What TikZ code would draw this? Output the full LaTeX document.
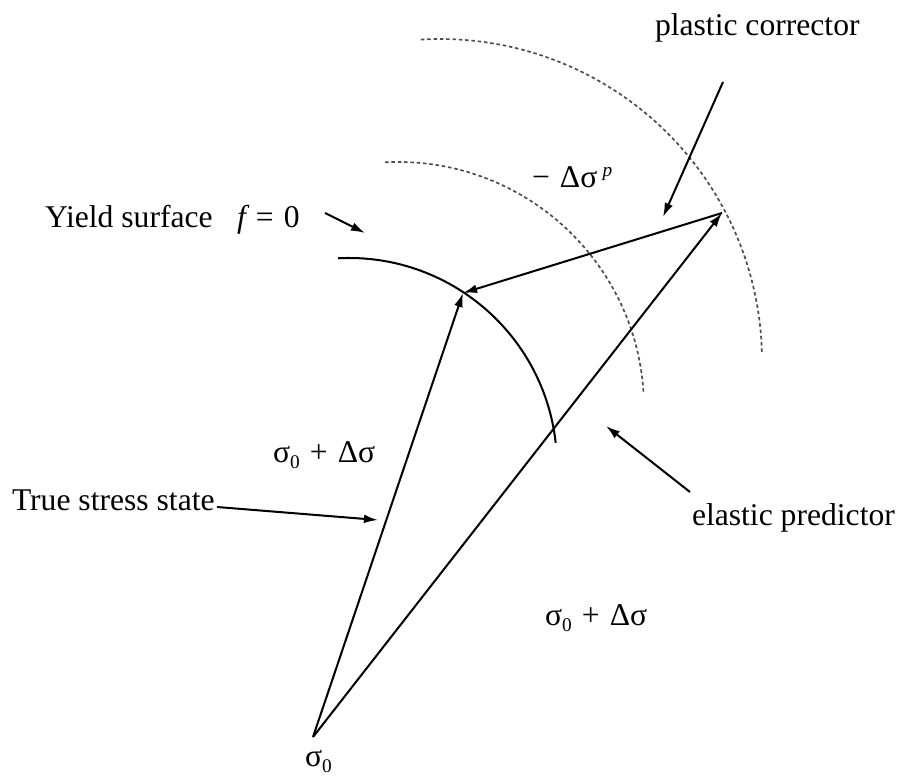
\documentclass[tikz,border=0pt]{standalone}
\usepackage{fontspec}
\setmainfont{Liberation Serif}
\usetikzlibrary{arrows.meta}
\newcommand{\mysub}[1]{\raisebox{-0.45ex}{\fontsize{11}{11}\selectfont #1}}
\newcommand{\mysup}[1]{\raisebox{0.8ex}{\fontsize{11}{11}\selectfont #1}}
\newcommand{\opsp}{\hspace{0.32em}}
\begin{document}
\begin{tikzpicture}[x=0.02cm,y=-0.02cm,
  every node/.style={inner sep=0pt,outer sep=0pt,font=\fontsize{18}{20}\selectfont},
  lbl/.style={anchor=base west},
  vec/.style={line width=1.15pt,-{Latex[length=8pt,width=5pt]}},
  pointer/.style={line width=1.15pt,-{Latex[length=8pt,width=5pt]}},
  yieldarc/.style={line width=1.15pt},
  trial/.style={line width=0.95pt,gray!60!black,dash pattern=on 2pt off 1.6pt}]
\useasboundingbox (0,0) rectangle (901,776);
% points
\coordinate (O) at (313,737);
\coordinate (T) at (463,293);
\coordinate (P) at (722,213);
% surfaces
\draw[yieldarc] ([shift={(-93:208)}]349,466) arc[start angle=-93,end angle=-6.4,radius=208];
\draw[trial] ([shift={(-93:246)}]398,408) arc[start angle=-93,end angle=-3.6,radius=246];
\draw[trial] ([shift={(-93.4:322)}]440,361) arc[start angle=-93.4,end angle=-1.5,radius=322];
% vectors
\draw[vec] (O) -- (T);
\draw[vec] (O) -- (P);
\draw[vec] (P) -- (T);
% labels
\node[lbl] (pc) at (655,36) {plastic corrector};
\node[lbl] (dsp) at (532,188) {−\opsp Δσ\,\mysup{\itshape p}};
\node[lbl] (ys) at (45,228) {Yield surface};
\node[lbl] (f0) at (237,228) {\itshape f\upshape\opsp=\opsp 0};
\node[lbl] (s1) at (273,462) {σ\mysub{0}\opsp+\opsp Δσ};
\node[lbl] (tss) at (12,510) {True stress state};
\node[lbl] (ep) at (692,525) {elastic predictor};
\node[lbl] (s2) at (545,625) {σ\mysub{0}\opsp+\opsp Δσ};
\node[lbl] (s0) at (305,766) {σ\mysub{0}};
% pointer arrows
\coordinate (pcA) at (723,82);  \coordinate (pcB) at (663,217);
\coordinate (ysA) at (325,213); \coordinate (ysB) at (365,233);
\coordinate (tsA) at (217,507); \coordinate (tsB) at (378,520);
\coordinate (epA) at (690,492); \coordinate (epB) at (606,426);
\draw[pointer] (pcA) -- (pcB);
\draw[pointer] (ysA) -- (ysB);
\draw[pointer] (tsA) -- (tsB);
\draw[pointer] (epA) -- (epB);
\end{tikzpicture}
\end{document}
